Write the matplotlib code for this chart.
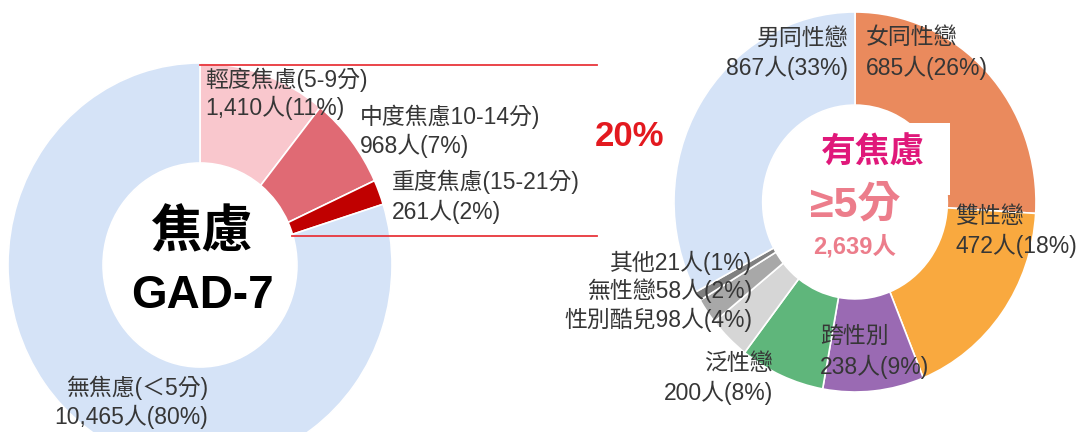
import numpy as np
import matplotlib
matplotlib.use('Agg')
import matplotlib.pyplot as plt
from matplotlib.patches import Rectangle
from matplotlib.lines import Line2D
from matplotlib.transforms import IdentityTransform

plt.rcParams['font.family'] = ['Liberation Sans', 'Noto Sans CJK TC', 'DejaVu Sans']

W, H = 1089, 432

# GAD-7 levels (left ring)
gad_labels = ['輕度焦慮(5-9分)', '中度焦慮10-14分)', '重度焦慮(15-21分)', '無焦慮(＜5分)']
gad_counts = [1410, 968, 261, 10465]
gad_pcts = [11, 7, 2, 80]
gad_colors = ['#f9c7cd', '#e06a74', '#c00000', '#d5e3f7']

# people with anxiety >= 5, by orientation (right ring)
orient_labels = ['女同性戀', '雙性戀', '跨性別', '泛性戀', '性別酷兒', '無性戀', '其他', '男同性戀']
orient_counts = [685, 472, 238, 200, 98, 58, 21, 867]
orient_pcts = [26, 18, 9, 8, 4, 2, 1, 33]
orient_colors = ['#ea8a5d', '#f9a93f', '#9a6ab3', '#5fb67b', '#d6d6d6', '#a8a8a8', '#808080', '#d5e3f7']

anx_share = '20%'
anx_total = 2639

txt_col = '#363636'
cjk_bold = ['Noto Sans CJK TC', 'DejaVu Sans']


def fx(x):
    return x / W


def fy(y):
    return 1 - y / H


def donut_axes(fig, cx, cy, rx, ry):
    ax = fig.add_axes([(cx - rx) / W, 1 - (cy + ry) / H, 2 * rx / W, 2 * ry / H])
    return ax


fig = plt.figure(figsize=(W / 100, H / 100), dpi=100)

# ---- left ring
ax1 = donut_axes(fig, 200, 265, 192, 202)
ax1.pie(gad_counts, colors=gad_colors, startangle=90, counterclock=False,
        radius=1, wedgeprops=dict(width=0.495, edgecolor='white', linewidth=1.2))
ax1.set_aspect('auto')
ax1.set_xlim(-1, 1)
ax1.set_ylim(-1, 1)

# ---- right ring
ax2 = donut_axes(fig, 855, 202, 181, 190)
ax2.pie(orient_counts, colors=orient_colors, startangle=90, counterclock=False,
        radius=1, wedgeprops=dict(width=0.49, edgecolor='white', linewidth=1.2))
ax2.set_aspect('auto')
ax2.set_xlim(-1, 1)
ax2.set_ylim(-1, 1)

# white box behind the centre title of the right ring
fig.add_artist(Rectangle((fx(855), fy(195)), 95 / W, 72 / H, transform=fig.transFigure,
                         facecolor='white', edgecolor='none', zorder=1))

# red lines from the anxious part of the left ring
anx_frac = sum(gad_counts[:3]) / sum(gad_counts)
theta = np.pi / 2 - 2 * np.pi * anx_frac
p_top = ax1.transData.transform((0, 1))
p_bot = ax1.transData.transform((0.505 * np.cos(theta), 0.505 * np.sin(theta)))
x_end = 597 / W * fig.bbox.width
for p in [p_top, p_bot]:
    fig.add_artist(Line2D([p[0], x_end], [p[1] - 2, p[1] - 2],
                          transform=IdentityTransform(), color='#e8363c', lw=1.3, zorder=2))

lab_fs = 16.5

# left ring labels
fig.text(fx(205), fy(80), gad_labels[0], fontsize=lab_fs, color=txt_col, ha='left', va='center')
fig.text(fx(205), fy(108), f'{gad_counts[0]:,}人({gad_pcts[0]}%)', fontsize=lab_fs, color=txt_col, ha='left', va='center')
fig.text(fx(360), fy(117), gad_labels[1], fontsize=lab_fs, color=txt_col, ha='left', va='center')
fig.text(fx(360), fy(146), f'{gad_counts[1]:,}人({gad_pcts[1]}%)', fontsize=lab_fs, color=txt_col, ha='left', va='center')
fig.text(fx(392), fy(182), gad_labels[2], fontsize=lab_fs, color=txt_col, ha='left', va='center')
fig.text(fx(392), fy(212), f'{gad_counts[2]:,}人({gad_pcts[2]}%)', fontsize=lab_fs, color=txt_col, ha='left', va='center')
fig.text(fx(208), fy(388), gad_labels[3], fontsize=lab_fs, color=txt_col, ha='right', va='center')
fig.text(fx(208), fy(417), f'{gad_counts[3]:,}人({gad_pcts[3]}%)', fontsize=lab_fs, color=txt_col, ha='right', va='center')

fig.text(fx(202), fy(232), '焦慮', fontsize=37, fontweight='bold', color='black', ha='center', va='center',
         family=cjk_bold)
fig.text(fx(202), fy(296), 'GAD-7', fontsize=33, fontweight='bold', color='black', ha='center', va='center')

fig.text(fx(630), fy(137), anx_share, fontsize=25, fontweight='bold', color='#e3191f', ha='center', va='center')

# right ring labels
fig.text(fx(848), fy(38), orient_labels[7], fontsize=lab_fs, color=txt_col, ha='right', va='center')
fig.text(fx(848), fy(68), f'{orient_counts[7]}人({orient_pcts[7]}%)', fontsize=lab_fs, color=txt_col, ha='right', va='center')
fig.text(fx(866), fy(38), orient_labels[0], fontsize=lab_fs, color=txt_col, ha='left', va='center')
fig.text(fx(866), fy(68), f'{orient_counts[0]}人({orient_pcts[0]}%)', fontsize=lab_fs, color=txt_col, ha='left', va='center')
fig.text(fx(955), fy(217), orient_labels[1], fontsize=lab_fs, color=txt_col, ha='left', va='center')
fig.text(fx(955), fy(246), f'{orient_counts[1]}人({orient_pcts[1]}%)', fontsize=lab_fs, color=txt_col, ha='left', va='center')
fig.text(fx(820), fy(336), orient_labels[2], fontsize=lab_fs, color=txt_col, ha='left', va='center')
fig.text(fx(820), fy(367), f'{orient_counts[2]}人({orient_pcts[2]}%)', fontsize=lab_fs, color=txt_col, ha='left', va='center')
fig.text(fx(773), fy(363), orient_labels[3], fontsize=lab_fs, color=txt_col, ha='right', va='center')
fig.text(fx(773), fy(393), f'{orient_counts[3]}人({orient_pcts[3]}%)', fontsize=lab_fs, color=txt_col, ha='right', va='center')
for i, yy in zip([6, 5, 4], [263, 291, 320]):
    fig.text(fx(752), fy(yy), f'{orient_labels[i]}{orient_counts[i]}人({orient_pcts[i]}%)',
             fontsize=lab_fs, color=txt_col, ha='right', va='center')

fig.text(fx(873), fy(152), '有焦慮', fontsize=25, fontweight='bold', color='#e0187a', ha='center', va='center',
         family=cjk_bold)
fig.text(fx(855), fy(205), '≥5分', fontsize=31, fontweight='bold', color='#ec7d8b', ha='center', va='center')
fig.text(fx(855), fy(247), f'{anx_total:,}人', fontsize=17, fontweight='bold', color='#ec7d8b', ha='center', va='center')

fig.savefig('out.png', dpi=100)
